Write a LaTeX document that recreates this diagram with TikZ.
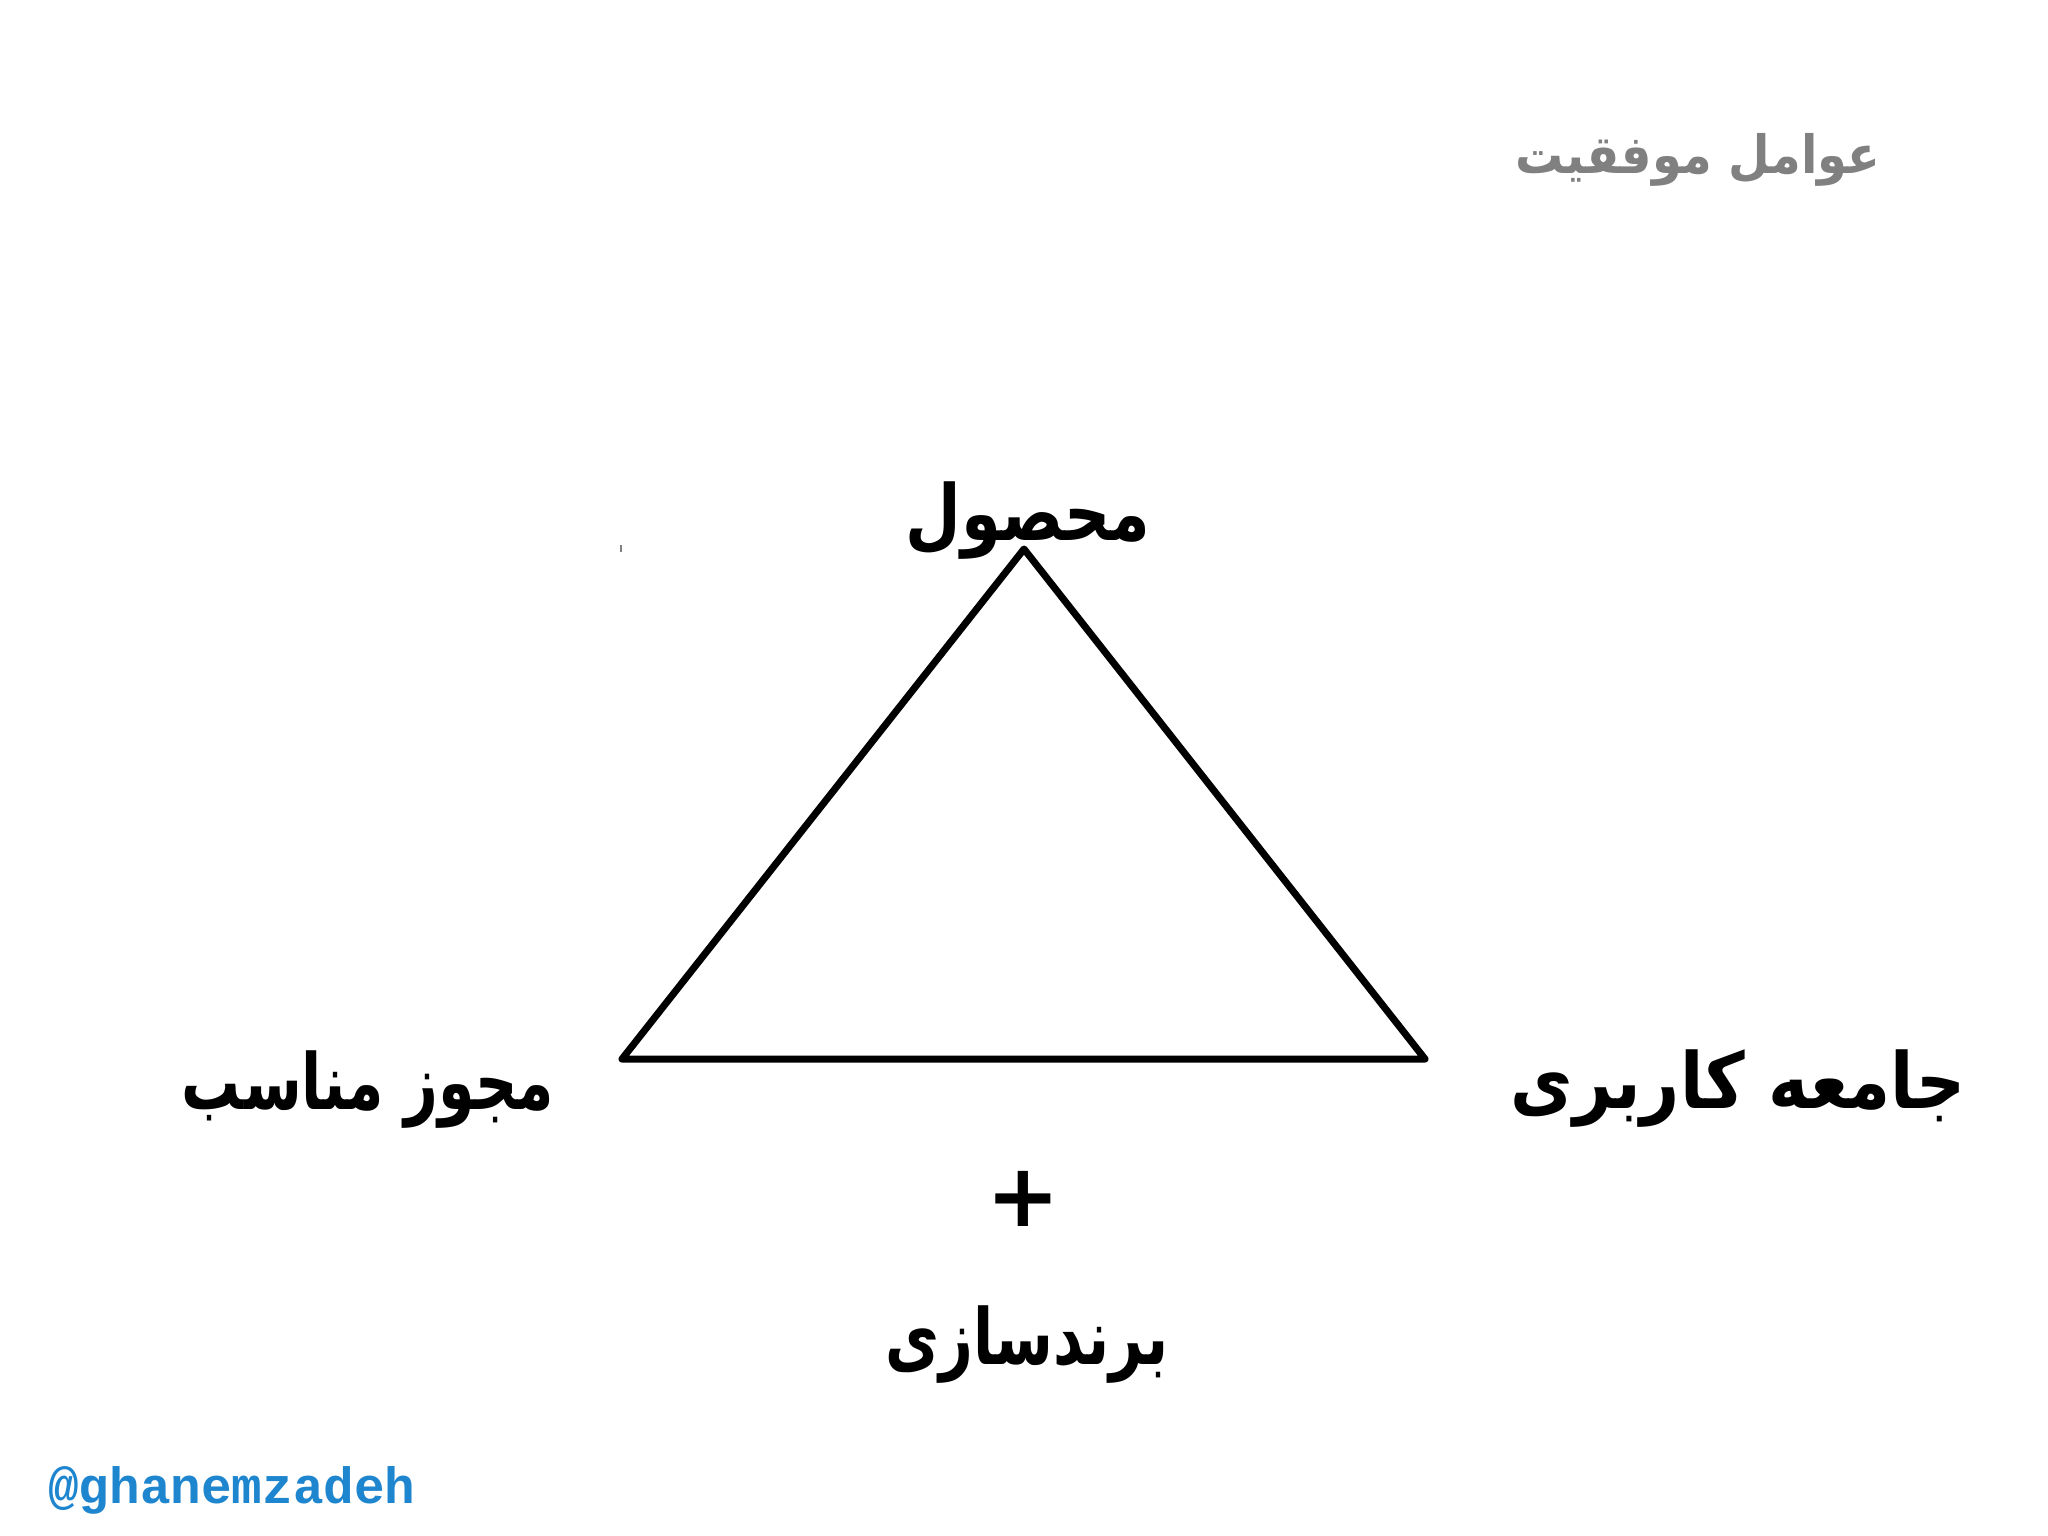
\documentclass[tikz,border=0pt]{standalone}
\usepackage{fontspec}
\TeXXeTstate=1
\newfontfamily\arabicfont[Script=Arabic]{DejaVu Sans}
\newfontfamily\monofont{Liberation Mono}
\definecolor{titlegray}{HTML}{808080}
\definecolor{handleblue}{HTML}{1E85CF}
\tikzset{
  label/.style={font=\arabicfont\bfseries\fontsize{22}{26}\selectfont, text=black, inner sep=0pt, transform shape},
  title/.style={font=\arabicfont\bfseries\fontsize{15}{18}\selectfont, text=titlegray, inner sep=0pt, transform shape},
  handle/.style={font=\monofont\bfseries\fontsize{14.5}{17}\selectfont, text=handleblue, inner sep=0pt},
  plussign/.style={font=\arabicfont\bfseries\fontsize{25}{29}\selectfont, text=black, inner sep=0pt},
  triangle/.style={draw=black, line width=2pt, line join=round}
}
\begin{document}
\begin{tikzpicture}[x=0.01cm, y=-0.01cm]
\useasboundingbox (0,0) rectangle (2048,1535);
\fill[white] (0,0) rectangle (2048,1535);
\coordinate (apex) at (1024,549);
\coordinate (left) at (622,1059);
\coordinate (right) at (1425,1059);
\draw[triangle] (apex) -- (left) -- (right) -- cycle;
\coordinate (tickA) at (621,545);
\coordinate (tickB) at (621,552);
\draw[titlegray, line width=0.5pt] (tickA) -- (tickB);
\node[title, xscale=0.91] (title) at (1698,160) {\beginR عوامل موفقیت\endR};
\node[label, xscale=0.83] (product) at (1028,521) {\beginR محصول\endR};
\node[label, xscale=0.76] (license) at (368,1090) {\beginR مجوز مناسب\endR};
\node[label, xscale=0.88] (community) at (1738,1089) {\beginR جامعه کاربری\endR};
\node[plussign] (plus) at (1023,1199) {+};
\node[label, xscale=0.76] (branding) at (1027,1345) {\beginR برندسازی\endR};
\node[handle] (handle) at (232,1490) {@ghanemzadeh};
\end{tikzpicture}
\end{document}
